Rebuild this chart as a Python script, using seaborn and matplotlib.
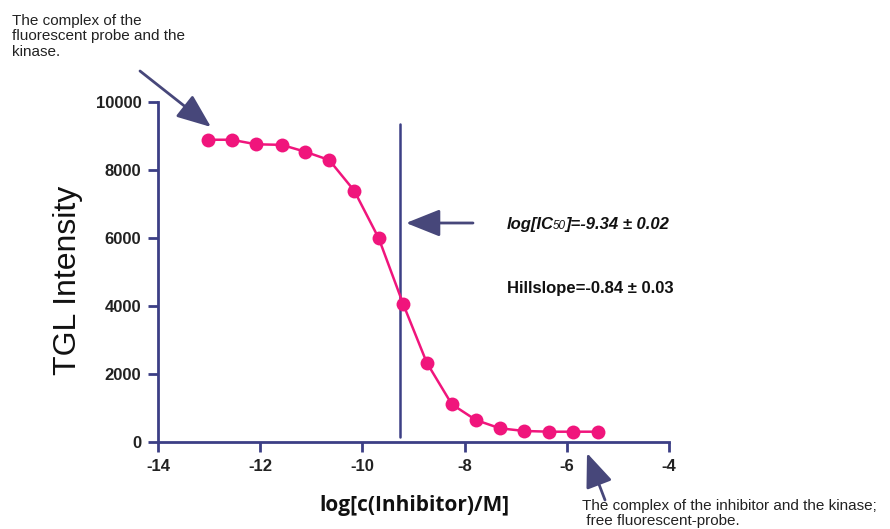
import matplotlib
matplotlib.use("Agg")
import matplotlib.pyplot as plt
import seaborn as sns
import pandas as pd

# ---- data ----
log_conc = [-13.03, -12.56, -12.08, -11.58, -11.12, -10.65, -10.16, -9.68, -9.20,
            -8.74, -8.25, -7.78, -7.31, -6.83, -6.34, -5.87, -5.38]
intensity = [8890, 8890, 8756, 8740, 8538, 8294, 7391, 5991, 4050,
             2332, 1109, 647, 403, 324, 303, 303, 303]
ic50_line_x = -9.26
ic50_line_y = [147, 9353]
x_ticks = [-14, -12, -10, -8, -6, -4]
y_ticks = [0, 2000, 4000, 6000, 8000, 10000]

df = pd.DataFrame({"logc": log_conc, "I": intensity})

sns.set_theme(style="white")
plt.rcParams["font.family"] = ["Liberation Sans", "DejaVu Sans"]

W, H = 890, 529
fig = plt.figure(figsize=(W / 100, H / 100), dpi=100)
ax = fig.add_axes([158 / W, 1 - 442 / H, (669 - 158) / W, (442 - 102) / H])

pink = "#F0157C"
navy = "#3C3F85"
arrowc = "#47477A"

sns.lineplot(data=df, x="logc", y="I", ax=ax, color=pink, linewidth=1.8,
             marker="o", markersize=10, markeredgewidth=0, markerfacecolor=pink,
             clip_on=False, zorder=5)

ax.plot([ic50_line_x, ic50_line_x], ic50_line_y, color=navy, linewidth=1.8)

ax.set_xlim(-14, -4)
ax.set_ylim(0, 10000)
ax.set_xticks(x_ticks)
ax.set_yticks(y_ticks)
ax.set_xticklabels([str(t) for t in x_ticks], fontweight="bold", fontsize=12, color="#222222")
ax.set_yticklabels([str(t) for t in y_ticks], fontweight="bold", fontsize=12, color="#222222")
for s in ["top", "right"]:
    ax.spines[s].set_visible(False)
for s in ["left", "bottom"]:
    ax.spines[s].set_color(navy)
    ax.spines[s].set_linewidth(2)
ax.tick_params(axis="both", direction="out", length=7, width=2, color=navy, pad=5,
               left=True, bottom=True)
ax.set_facecolor("white")

ax.set_xlabel("log[c(Inhibitor)/M]", fontsize=15, fontweight="bold",
              family=["Open Sans", "DejaVu Sans"], color="#111111")
ax.xaxis.set_label_coords((414 - 158) / (669 - 158), -(506 - 442) / (442 - 102))
ax.xaxis.label.set_va("center")
ax.set_ylabel("TGL Intensity", fontsize=23, color="#111111")
ax.yaxis.set_label_coords(-(158 - 68) / (669 - 158), (442 - 280) / (442 - 102))
ax.yaxis.label.set_va("center")


def px(x, y):
    return (x / W, 1 - y / H)


# annotations
fig.text(*px(12, 14), "The complex of the\nfluorescent probe and the\nkinase.",
         fontsize=11, va="top", ha="left", color="#222222", linespacing=1.12)
fig.text(*px(582, 499), "The complex of the inhibitor and the kinase;\n free fluorescent-probe.",
         fontsize=11, va="top", ha="left", color="#222222", linespacing=1.1)

arrowprops = dict(arrowstyle="-|>,head_length=1.05,head_width=0.42", color=arrowc,
                  linewidth=2, mutation_scale=20, shrinkA=0, shrinkB=0)
fig.add_artist(matplotlib.patches.FancyArrowPatch(px(140, 71), px(211, 127),
               transform=fig.transFigure, **arrowprops))
fig.add_artist(matplotlib.patches.FancyArrowPatch(px(473, 223), px(406, 223),
               transform=fig.transFigure, **arrowprops))
fig.add_artist(matplotlib.patches.FancyArrowPatch(px(605, 500), px(587, 453),
               transform=fig.transFigure, **arrowprops))

# IC50 text composed of pieces
base = 229
t1 = fig.text(*px(507, base), "log[IC", fontsize=12, fontweight="bold", style="italic",
              va="baseline", ha="left", color="#111111")
t2 = fig.text(0, 0, "50", fontsize=8.5, style="italic", va="baseline", ha="left",
              color="#111111")
t3 = fig.text(0, 0, "]=-9.34 \u00b1 0.02", fontsize=12, fontweight="bold", style="italic",
              va="baseline", ha="left", color="#111111")
fig.canvas.draw()
r = fig.canvas.get_renderer()
bb1 = t1.get_window_extent(r)
t2.set_position(((bb1.x1 - 1.5) / W, 1 - base / H))
fig.canvas.draw()
bb2 = t2.get_window_extent(r)
t3.set_position(((bb2.x1 - 0.5) / W, 1 - base / H))

fig.text(*px(507, 293), "Hillslope=-0.84 \u00b1 0.03", fontsize=12, fontweight="bold",
         va="baseline", ha="left", color="#111111")

fig.savefig("out.png", dpi=100, facecolor="white")
